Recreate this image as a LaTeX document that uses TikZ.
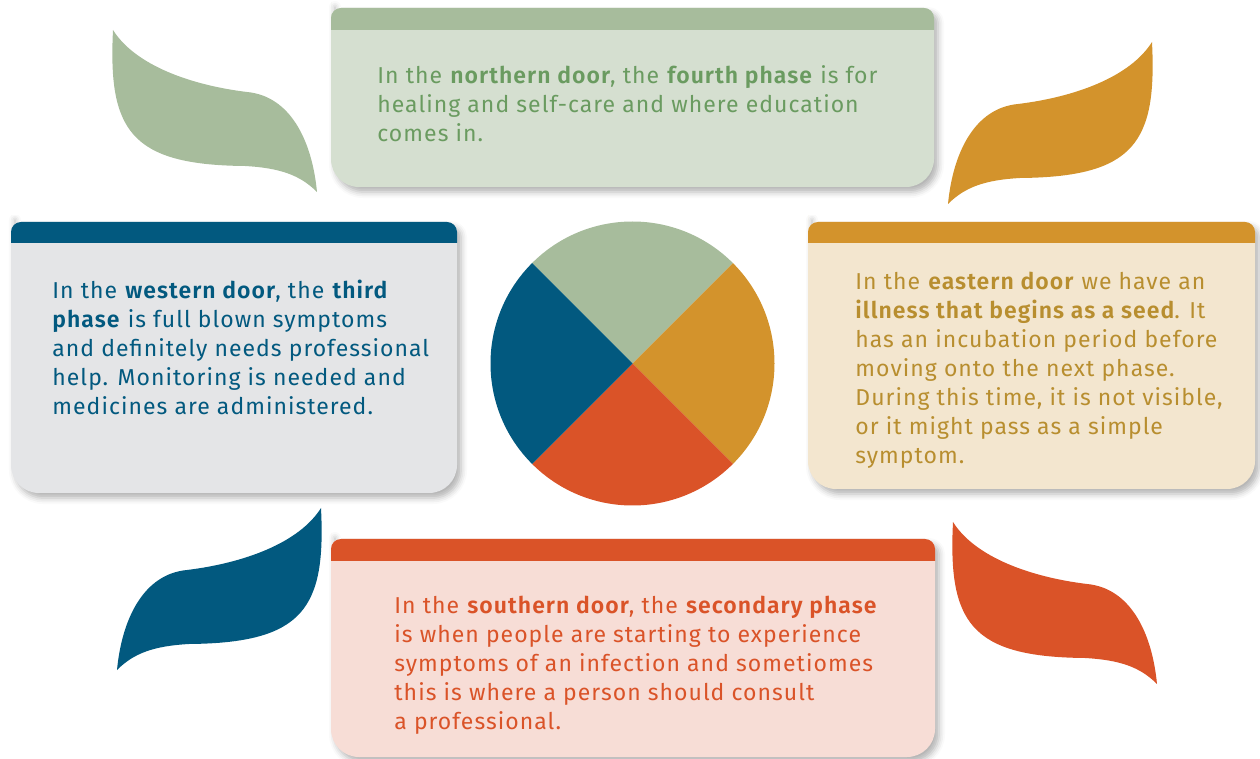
\documentclass[tikz,border=0pt]{standalone}
\usepackage{fontspec}
\setmainfont{Fira Sans}[BoldFont=* SemiBold, LetterSpace=4.5]
\usepackage{xcolor}
\usepackage{tikz}
\usetikzlibrary{shadows.blur}

\definecolor{sage}{HTML}{A7BC9C}
\definecolor{sagepale}{HTML}{D5DFD0}
\definecolor{sagetext}{HTML}{6A9B60}
\definecolor{navy}{HTML}{02597F}
\definecolor{navypale}{HTML}{E4E5E7}
\definecolor{ochre}{HTML}{D3932C}
\definecolor{ochrepale}{HTML}{F3E6CF}
\definecolor{ochretext}{HTML}{B88E2F}
\definecolor{rust}{HTML}{DA5328}
\definecolor{rustpale}{HTML}{F7DDD6}

\tikzset{
  doorbox/.style={blur shadow={shadow xshift=2pt, shadow yshift=-2.5pt,
      shadow blur radius=3pt, shadow opacity=30}},
  doortext/.style={anchor=north west, inner sep=0pt, align=left,
      font=\fontsize{11.5}{14.5}\selectfont},
}

% one leaf, drawn in pixel coordinates
\newcommand\leafpath{(113,30) .. controls (135,65) and (190,85) .. (247,92)
  .. controls (290,96) and (312,140) .. (317,192)
  .. controls (300,175) and (280,168) .. (245,166)
  .. controls (130,165) and (108,130) .. (113,30) -- cycle}

\begin{document}
\begin{tikzpicture}[x=0.5pt, y=-0.5pt]
    \useasboundingbox (0,0) rectangle (1260,759);

    % Leaves in the four corners
    \fill[sage] \leafpath;
    \fill[ochre, shift={(1265,12)}, xscale=-1] \leafpath;
    \fill[navy, shift={(434,478)}, xscale=-1] \leafpath;
    \fill[rust, shift={(840,492)}] \leafpath;

    % Door boxes: body, then coloured header band
    \foreach \xa/\ya/\xb/\yb/\yh/\head/\body in {
        331/8/934/187/30/sage/sagepale,
        11/222/457/493/243/navy/navypale,
        808/222/1255/489/243/ochre/ochrepale,
        331/539/935/757/561/rust/rustpale}{
      \fill[\body, doorbox] (\xa,\yh) [rounded corners=5pt] -- (\xa,\ya)
        -- (\xb,\ya) -- (\xb,\yh) [rounded corners=14pt] -- (\xb,\yb)
        -- (\xa,\yb) -- cycle;
      \begin{scope}
        \clip (\xa,\ya) rectangle (\xb,\yh);
        \fill[\head] (\xa,\yh) [rounded corners=5pt] -- (\xa,\ya)
          -- (\xb,\ya) -- (\xb,{\yh+20}) -- (\xa,{\yh+20}) -- cycle;
      \end{scope}
    }

    % Medicine wheel
    \coordinate (hub) at (632.5,363.5);
    \fill[sage] (hub) -- ++(225:142) arc[start angle=225, end angle=315, radius=142] -- cycle;
    \fill[ochre] (hub) -- ++(-45:142) arc[start angle=-45, end angle=45, radius=142] -- cycle;
    \fill[rust] (hub) -- ++(45:142) arc[start angle=45, end angle=135, radius=142] -- cycle;
    \fill[navy] (hub) -- ++(135:142) arc[start angle=135, end angle=225, radius=142] -- cycle;

    % Door texts
    \node[doortext, text=sagetext] (northtext) at (377,65)
        {In the \textbf{northern door}, the \textbf{fourth phase} is for\\
         healing and self-care and where education\\
         comes in.};
    \node[doortext, text=navy] (westtext) at (52,280)
        {In the \textbf{western door}, the \textbf{third}\\
         \textbf{phase} is full blown symptoms\\
         and definitely needs professional\\
         help. Monitoring is needed and\\
         medicines are administered.};
    \node[doortext, text=ochretext] (easttext) at (855,272)
        {In the \textbf{eastern door} we have an\\
         \textbf{illness that begins as a seed}. It\\
         has an incubation period before\\
         moving onto the next phase.\\
         During this time, it is not visible,\\
         or it might pass as a simple\\
         symptom.};
    \node[doortext, text=rust] (southtext) at (394,596)
        {In the \textbf{southern door}, the \textbf{secondary phase}\\
         is when people are starting to experience\\
         symptoms of an infection and sometiomes\\
         this is where a person should consult\\
         a professional.};
\end{tikzpicture}
\end{document}
